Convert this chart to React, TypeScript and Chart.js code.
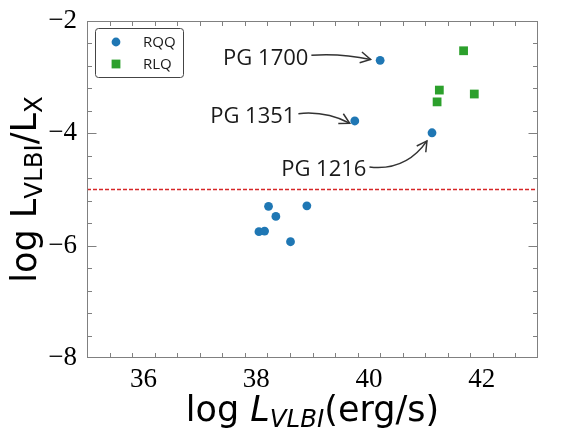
import React, { useEffect, useRef } from 'react';
import { Chart, registerables } from 'chart.js';

Chart.register(...registerables);

// ---- data ----
const rqqX = [38.05, 38.15, 38.22, 38.35, 38.61, 38.9, 39.75, 40.2, 41.12];
const rqqY = [-5.75, -5.74, -5.3, -5.48, -5.93, -5.29, -3.78, -2.7, -3.99];
const rlqX = [41.68, 41.25, 41.21, 41.87];
const rlqY = [-2.53, -3.23, -3.44, -3.3];
const thresholdX = [35, 43];
const thresholdY = [-5, -5];
const xTickValues = [36, 38, 40, 42];
const yTickValues = [-8, -6, -4, -2];
const xRange = [35, 43];
const yRange = [-8, -2];
const minorStep = 0.4;

// annotations (data coordinates)
const annLabels = ['PG 1700', 'PG 1351', 'PG 1216'];
const annStartX = [38.98, 38.75, 40.01];
const annStartY = [-2.61, -3.65, -4.6];
const annTipX = [40.03, 39.66, 41.03];
const annTipY = [-2.685, -3.82, -4.135];
const annRad = [-0.07, -0.15, 0.3];

const BLUE = '#1f77b4';
const GREEN = '#2ca02c';
const RED = '#d62728';
const FRAME = '#808080';
const SANS = '"Open Sans", "Noto Sans", sans-serif';
const TITLE = '"DejaVu Sans", sans-serif';
const SERIF = '"Liberation Serif", "Times New Roman", serif';

const fmt = (v: number) => String(v).replace('-', '\u2212');

type Part = { t: string; it?: boolean; sub?: boolean };
const xTitleParts: Part[] = [
  { t: 'log ' },
  { t: 'L', it: true },
  { t: 'VLBI', it: true, sub: true },
  { t: '(erg/s)' },
];
const yTitleParts: Part[] = [
  { t: 'log L' },
  { t: 'VLBI', sub: true },
  { t: '/L' },
  { t: 'X', sub: true },
];

function drawRich(ctx: CanvasRenderingContext2D, parts: Part[], cx: number, baseline: number) {
  const main = 35;
  const sub = 24.5;
  const shift = 6;
  const fontOf = (p: Part) => `${p.it ? 'oblique ' : ''}${p.sub ? sub : main}px ${TITLE}`;
  let total = 0;
  const widths = parts.map((p) => {
    ctx.font = fontOf(p);
    const w = ctx.measureText(p.t).width;
    total += w;
    return w;
  });
  let x = cx - total / 2;
  ctx.textAlign = 'left';
  ctx.textBaseline = 'alphabetic';
  parts.forEach((p, i) => {
    ctx.font = fontOf(p);
    ctx.fillText(p.t, x, baseline + (p.sub ? shift : 0));
    x += widths[i];
  });
}

const decorPlugin = {
  id: 'decor',
  afterDatasetsDraw(chart: any) {
    const { ctx, chartArea, scales } = chart;
    const { left, right, top, bottom } = chartArea;
    const xs = scales.x;
    const ys = scales.y;
    ctx.save();
    ctx.strokeStyle = FRAME;
    ctx.lineWidth = 1;
    const L = Math.round(left) + 0.5;
    const R = Math.round(right) - 0.5;
    const T = Math.round(top) + 0.5;
    const B = Math.round(bottom) - 0.5;
    ctx.strokeRect(L, T, R - L, B - T);
    const isMajor = (v: number) => Math.abs(v / 2 - Math.round(v / 2)) < 1e-6;
    ctx.beginPath();
    for (let k = 1; xRange[0] + k * minorStep < xRange[1] - 1e-6; k++) {
      const v = Math.round((xRange[0] + k * minorStep) * 10) / 10;
      const px = Math.round(xs.getPixelForValue(v)) + 0.5;
      const len = isMajor(v) ? 9 : 4.5;
      ctx.moveTo(px, B);
      ctx.lineTo(px, B - len);
      ctx.moveTo(px, T);
      ctx.lineTo(px, T + len);
    }
    for (let k = 1; yRange[0] + k * minorStep < yRange[1] - 1e-6; k++) {
      const v = Math.round((yRange[0] + k * minorStep) * 10) / 10;
      const py = Math.round(ys.getPixelForValue(v)) + 0.5;
      const len = isMajor(v) ? 9 : 4.5;
      ctx.moveTo(L, py);
      ctx.lineTo(L + len, py);
      ctx.moveTo(R, py);
      ctx.lineTo(R - len, py);
    }
    ctx.stroke();
    ctx.restore();
  },
  afterDraw(chart: any) {
    const { ctx, chartArea, scales } = chart;
    const xs = scales.x;
    const ys = scales.y;
    ctx.save();

    // annotations
    ctx.fillStyle = '#1a1a1a';
    ctx.strokeStyle = '#333333';
    ctx.lineWidth = 1.5;
    annLabels.forEach((lab, i) => {
      const sx = xs.getPixelForValue(annStartX[i]);
      const sy = ys.getPixelForValue(annStartY[i]);
      const tx = xs.getPixelForValue(annTipX[i]);
      const ty = ys.getPixelForValue(annTipY[i]);
      ctx.font = `22px ${SANS}`;
      ctx.textAlign = 'right';
      ctx.textBaseline = 'alphabetic';
      ctx.fillText(lab, sx - 3, sy + 1.5 + 0.357 * 22);
      const mx = (sx + tx) / 2;
      const my = (sy + ty) / 2;
      const dx = tx - sx;
      const dy = ty - sy;
      const cx = mx - annRad[i] * dy;
      const cy = my + annRad[i] * dx;
      ctx.beginPath();
      ctx.moveTo(sx, sy);
      ctx.quadraticCurveTo(cx, cy, tx, ty);
      ctx.stroke();
      const a = Math.atan2(ty - cy, tx - cx);
      const hl = 10;
      const hw = 5.5;
      const bx = tx - hl * Math.cos(a);
      const by = ty - hl * Math.sin(a);
      ctx.beginPath();
      ctx.moveTo(bx - hw * Math.sin(a), by + hw * Math.cos(a));
      ctx.lineTo(tx, ty);
      ctx.lineTo(bx + hw * Math.sin(a), by - hw * Math.cos(a));
      ctx.stroke();
    });

    // legend
    const lx = chartArea.left + 8.5;
    const ly = chartArea.top + 7.5;
    ctx.beginPath();
    (ctx as any).roundRect(lx, ly, 88, 49, 3);
    ctx.fillStyle = '#ffffff';
    ctx.fill();
    ctx.strokeStyle = '#444444';
    ctx.lineWidth = 1;
    ctx.stroke();
    const ds = chart.data.datasets;
    const mX = chartArea.left + 29;
    const rowY = [chartArea.top + 21, chartArea.top + 43];
    ctx.fillStyle = ds[0].backgroundColor;
    ctx.beginPath();
    ctx.arc(mX, rowY[0], 4.4, 0, Math.PI * 2);
    ctx.fill();
    ctx.fillStyle = ds[1].backgroundColor;
    ctx.fillRect(mX - 4.4, rowY[1] - 4.4, 8.8, 8.8);
    ctx.fillStyle = '#1a1a1a';
    ctx.font = `15px ${SANS}`;
    ctx.textAlign = 'left';
    ctx.textBaseline = 'alphabetic';
    ctx.fillText(ds[0].label, chartArea.left + 56, rowY[0] + 5.4);
    ctx.fillText(ds[1].label, chartArea.left + 56, rowY[1] + 5.4);

    // axis titles
    ctx.fillStyle = '#000000';
    const cxMid = (chartArea.left + chartArea.right) / 2;
    drawRich(ctx, xTitleParts, cxMid, 421);
    const cyMid = (chartArea.top + chartArea.bottom) / 2;
    ctx.translate(36, cyMid);
    ctx.rotate(-Math.PI / 2);
    drawRich(ctx, yTitleParts, 0, 0);
    ctx.restore();
  },
};

export default function App() {
  const ref = useRef<HTMLCanvasElement>(null);
  useEffect(() => {
    const canvas = ref.current;
    if (!canvas) return;
    const chart = new Chart(canvas, {
      type: 'scatter',
      data: {
        datasets: [
          {
            label: 'RQQ',
            data: rqqX.map((x, i) => ({ x, y: rqqY[i] })),
            backgroundColor: BLUE,
            borderWidth: 0,
            pointStyle: 'circle',
            pointRadius: 4.4,
            order: 1,
          },
          {
            label: 'RLQ',
            data: rlqX.map((x, i) => ({ x, y: rlqY[i] })),
            backgroundColor: GREEN,
            borderWidth: 0,
            pointStyle: 'rect',
            pointRadius: 6.2,
            order: 1,
          },
          {
            label: 'threshold',
            data: thresholdX.map((x, i) => ({ x, y: thresholdY[i] })),
            showLine: true,
            borderColor: RED,
            borderWidth: 1.3,
            borderDash: [4, 2],
            pointRadius: 0,
            order: 5,
          } as any,
        ],
      },
      options: {
        responsive: false,
        animation: false,
        events: [],
        layout: { padding: { left: 0, top: 21, right: 27, bottom: 0 } },
        plugins: { legend: { display: false }, tooltip: { enabled: false } },
        scales: {
          x: {
            type: 'linear',
            position: 'bottom',
            min: xRange[0],
            max: xRange[1],
            grid: { display: false, drawTicks: false },
            border: { display: false },
            ticks: {
              font: { family: SERIF, size: 27 },
              color: '#000',
              padding: 6,
              maxRotation: 0,
              autoSkip: false,
              callback: (v: any) => fmt(Number(v)),
            },
            afterBuildTicks: (a: any) => {
              a.ticks = xTickValues.map((v) => ({ value: v }));
            },
            afterFit: (s: any) => {
              s.height = 70;
              s.paddingLeft = 0;
              s.paddingRight = 0;
            },
          },
          y: {
            type: 'linear',
            position: 'left',
            min: yRange[0],
            max: yRange[1],
            grid: { display: false, drawTicks: false },
            border: { display: false },
            ticks: {
              font: { family: SERIF, size: 27 },
              color: '#000',
              padding: 10,
              autoSkip: false,
              callback: (v: any) => fmt(Number(v)),
            },
            afterBuildTicks: (a: any) => {
              a.ticks = yTickValues.map((v) => ({ value: v }));
            },
            afterFit: (s: any) => {
              s.width = 87;
              s.paddingTop = 0;
              s.paddingBottom = 0;
            },
          },
        },
      },
      plugins: [decorPlugin],
    });
    return () => chart.destroy();
  }, []);
  return (
    <div style={{ position: 'absolute', left: 0, top: 0, width: 565, height: 428 }}>
      <canvas ref={ref} width={565} height={428} style={{ display: 'block' }} />
    </div>
  );
}
